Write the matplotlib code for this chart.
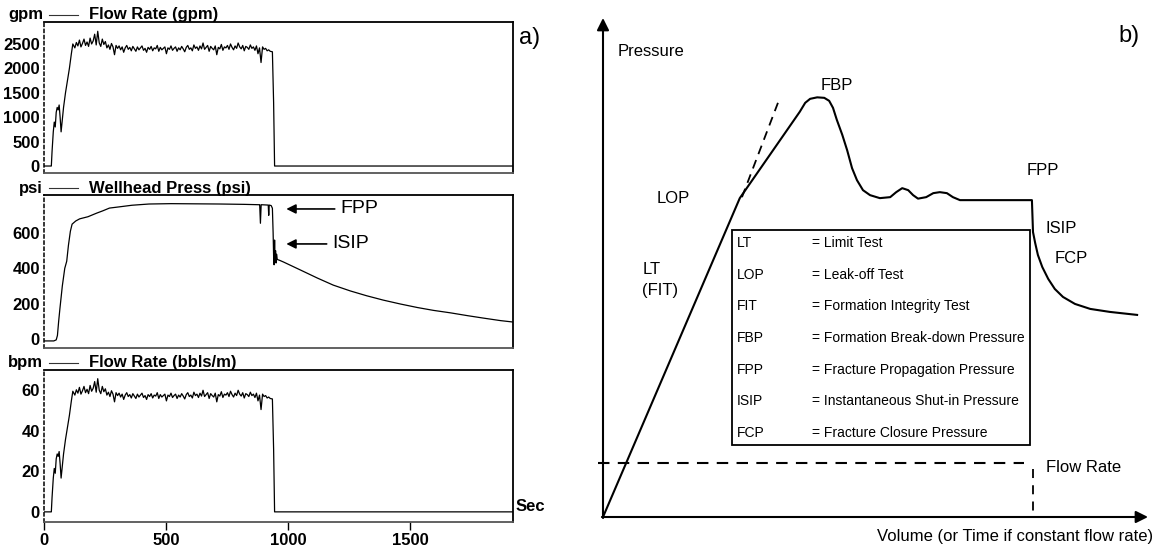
import numpy as np
import matplotlib
matplotlib.use("Agg")
import matplotlib.pyplot as plt
from matplotlib.lines import Line2D
from matplotlib.patches import Rectangle

W, H = 1156, 550
LEFT_FONT = ["Liberation Sans Narrow", "Liberation Sans"]
RIGHT_FONT = ["Liberation Sans", "DejaVu Sans"]

# ---------------- a) field injection record ----------------
# pump ramp-up (time in s, rate in gpm)
ramp_t = [0, 30, 33, 38, 42, 46, 50, 54, 58, 62, 66, 70, 74, 80, 88, 96, 104, 112, 118]
ramp_gpm = [0, 0, 300, 700, 900, 800, 1100, 1200, 1150, 1250, 1000, 700, 900, 1200,
            1500, 1750, 2000, 2300, 2500]

# steady pumping, sampled every ~6 s from 120 s to 926 s
steady_start, steady_end = 120, 926
steady_gpm = [
    2480, 2420, 2530, 2460, 2580, 2440, 2510, 2600, 2470, 2540,
    2450, 2620, 2500, 2560, 2700, 2480, 2760, 2520, 2450, 2600,
    2490, 2550, 2420, 2480, 2390, 2510, 2440, 2280, 2470, 2410,
    2460, 2380, 2440, 2330, 2420, 2470, 2390, 2430, 2360, 2450,
    2400, 2350, 2440, 2380, 2420, 2460, 2370, 2410, 2330, 2430,
    2390, 2450, 2360, 2420, 2400, 2470, 2350, 2430, 2380, 2410,
    2440, 2300, 2420, 2390, 2460, 2370, 2410, 2440, 2350, 2420,
    2380, 2450, 2400, 2340, 2430, 2470, 2390, 2420, 2360, 2480,
    2410, 2440, 2370, 2460, 2400, 2520, 2390, 2430, 2470, 2350,
    2450, 2410, 2380, 2460, 2280, 2430, 2400, 2490, 2370, 2440,
    2420, 2470, 2390, 2500, 2430, 2380, 2460, 2410, 2520, 2440,
    2400, 2470, 2360, 2450, 2430, 2390, 2480, 2410, 2440, 2370,
    2460, 2300, 2420, 2120, 2440, 2390, 2410, 2360, 2380, 2350,
]

# shut-in
shutin_t = [935, 940, 944, 1920]
shutin_gpm = [2340, 1300, 0, 0]

GAL_PER_BBL = 42.0

# wellhead pressure (time in s, psi)
press_t = [0, 40, 50, 55, 60, 65, 75, 85, 93, 100, 108, 115, 130, 146, 180, 215, 240,
           268, 309, 360, 430, 520, 620, 720, 820, 880, 883, 886, 889, 918, 920, 922,
           930, 935, 938, 940, 942, 944, 946, 948, 950, 952, 955, 965, 980, 1049, 1119,
           1184, 1254, 1320, 1389, 1459, 1529, 1594, 1664, 1734, 1800, 1869, 1920]
press_psi = [-11, -11, -5, 20, 100, 170, 300, 400, 440, 530, 610, 650, 668, 680, 692,
             712, 725, 741, 748, 757, 764, 766, 765, 764, 762, 760, 760, 655, 760, 758,
             700, 758, 755, 740, 600, 470, 420, 560, 440, 500, 430, 480, 450, 445, 436,
             391, 345, 305, 272, 245, 220, 198, 178, 162, 148, 132, 118, 104, 96]

fpp_psi, isip_psi = 736, 538

# ---------------- b) idealised leak-off test ----------------
curve_v = [0, 25.1, 36.1, 37.1, 38.0, 39.3, 40.6, 41.5, 42.2, 42.9, 43.9, 44.8, 45.7,
           46.6, 47.7, 49.0, 50.8, 52.7, 53.8, 54.9, 56.0, 56.9, 57.8, 59.3, 60.6, 61.8,
           63.1, 64.2, 65.5, 78.7, 78.9, 79.3, 79.8, 80.6, 81.7, 82.9, 84.4, 86.6, 89.4,
           93.0, 98.0]
curve_p = [0, 63.9, 81.2, 83.0, 83.8, 84.1, 84.0, 83.4, 82.0, 79.6, 76.6, 73.5, 69.9,
           67.5, 65.5, 64.5, 63.9, 64.1, 65.1, 65.9, 65.5, 64.5, 63.8, 64.1, 64.9, 65.1,
           64.9, 64.1, 63.5, 63.5, 57.1, 54.9, 52.5, 50.1, 47.7, 45.7, 44.1, 42.7, 41.7,
           41.1, 40.5]
lop_ext_v = [25.5, 32.1]
lop_ext_p = [64.1, 83.0]
flow_level = 10.8
flow_start, flow_stop = -0.9, 77.2
shutin_v = 78.9

abbrevs = ["LT", "LOP", "FIT", "FBP", "FPP", "ISIP", "FCP"]
meanings = ["= Limit Test", "= Leak-off Test", "= Formation Integrity Test",
            "= Formation Break-down Pressure", "= Fracture Propagation Pressure",
            "= Instantaneous Shut-in Pressure", "= Fracture Closure Pressure"]


def fx(x):
    return x / W


def fy(y):
    return 1 - y / H


fig = plt.figure(figsize=(W / 100, H / 100), dpi=100)
fig.patch.set_facecolor("white")

steady_t = np.linspace(steady_start, steady_end, len(steady_gpm))
rate_t = np.concatenate([ramp_t, steady_t, shutin_t])
rate_gpm = np.concatenate([ramp_gpm, steady_gpm, shutin_gpm])
rate_bpm = rate_gpm / GAL_PER_BBL

panels = [
    (22, 173, rate_t, rate_gpm, (-143, 2950), [0, 500, 1000, 1500, 2000, 2500],
     "gpm", "Flow Rate (gpm)"),
    (195, 348, press_t, press_psi, (-51, 815), [0, 200, 400, 600],
     "psi", "Wellhead Press (psi)"),
    (370, 522, rate_t, rate_bpm, (-5, 70), [0, 20, 40, 60],
     "bpm", "Flow Rate (bbls/m)"),
]

axes = []
for top, bot, tt, vals, ylim, yt, unit, title in panels:
    ax = fig.add_axes([fx(44), fy(bot), fx(513) - fx(44), (bot - top) / H])
    ax.plot(tt, vals, color="black", lw=0.9)
    ax.set_xlim(0, 1920)
    ax.set_ylim(*ylim)
    ax.set_yticks(yt)
    ax.set_yticklabels([str(v) for v in yt], family=LEFT_FONT, weight="bold",
                       fontsize=12)
    ax.tick_params(axis="y", length=0, pad=3)
    ax.tick_params(axis="x", length=0)
    ax.set_xticks([])
    for s in ["top", "right", "bottom"]:
        ax.spines[s].set_linewidth(1.3)
    ax.spines["bottom"].set_color("#555555")
    ax.spines["left"].set_linestyle((0, (2, 2)))
    ax.spines["left"].set_linewidth(1.1)
    yc = top - 7
    fig.text(fx(43), fy(yc), unit, ha="right", va="center", family=LEFT_FONT,
             weight="bold", fontsize=12)
    fig.add_artist(Line2D([fx(49), fx(78)], [fy(yc), fy(yc)], color="#333333",
                          lw=0.8, transform=fig.transFigure))
    fig.text(fx(89), fy(yc), title, ha="left", va="center", family=LEFT_FONT,
             weight="bold", fontsize=12)
    axes.append(ax)

ax3 = axes[2]
ax3.set_xticks([0, 500, 1000, 1500])
ax3.set_xticklabels(["0", "500", "1000", "1500"], family=LEFT_FONT, weight="bold",
                    fontsize=12)
ax3.tick_params(axis="x", direction="out", length=6, width=1, pad=2)
ax3.text(1.006, 0.1, "Sec", transform=ax3.transAxes, ha="left", va="center",
         family=LEFT_FONT, weight="bold", fontsize=12)

ax2 = axes[1]
for label, val, tx in [("FPP", fpp_psi, 1213), ("ISIP", isip_psi, 1180)]:
    ax2.annotate(label, xy=(992, val), xytext=(tx, val), ha="left", va="center",
                 family=RIGHT_FONT, fontsize=14,
                 arrowprops=dict(arrowstyle="-|>", color="black", lw=1.2,
                                 mutation_scale=14, shrinkA=2, shrinkB=0))

fig.text(fx(519), fy(38), "a)", ha="left", va="center", family=RIGHT_FONT,
         fontsize=17)

# ---------------- panel b ----------------
axb = fig.add_axes([fx(603), fy(517), fx(1148) - fx(603), (517 - 18) / H])
axb.set_xlim(0, 100)
axb.set_ylim(0, 100)
axb.axis("off")

axb.annotate("", xy=(100, 0), xytext=(-0.2, 0),
             arrowprops=dict(arrowstyle="-|>", color="black", lw=1.5,
                             mutation_scale=18, shrinkA=0, shrinkB=0))
axb.annotate("", xy=(0, 100), xytext=(0, -0.2),
             arrowprops=dict(arrowstyle="-|>", color="black", lw=1.5,
                             mutation_scale=18, shrinkA=0, shrinkB=0))

axb.plot(curve_v, curve_p, color="black", lw=1.5, clip_on=False,
         solid_joinstyle="round")
axb.plot(lop_ext_v, lop_ext_p, color="black", lw=1.3, dashes=(5, 3.5))
axb.plot([flow_start, flow_stop], [flow_level, flow_level], color="black", lw=1.5,
         dashes=(5.5, 4), clip_on=False)
axb.plot([shutin_v, shutin_v], [flow_level - 1.2, 0], color="black", lw=1.3,
         dashes=(5, 4))

box = Rectangle((23.7, 14.4), 54.6, 43.1, facecolor="white", edgecolor="black",
                lw=1.3, zorder=3)
axb.add_patch(box)
row_y = np.linspace(54.9, 16.8, len(abbrevs))
for yv, ab, mn in zip(row_y, abbrevs, meanings):
    axb.text(24.6, yv, ab, ha="left", va="center", family=RIGHT_FONT, fontsize=10,
             zorder=4)
    axb.text(38.3, yv, mn, ha="left", va="center", family=RIGHT_FONT, fontsize=10,
             zorder=4)

tkw = dict(family=RIGHT_FONT, fontsize=12, va="center")
axb.text(2.7, 93.2, "Pressure", ha="left", **tkw)
axb.text(42.9, 86.4, "FBP", ha="center", **tkw)
axb.text(12.8, 63.9, "LOP", ha="center", **tkw)
axb.text(9.0, 49.5, "LT", ha="center", **tkw)
axb.text(10.5, 45.4, "(FIT)", ha="center", **tkw)
axb.text(80.7, 69.5, "FPP", ha="center", **tkw)
axb.text(84.0, 57.9, "ISIP", ha="center", **tkw)
axb.text(85.9, 51.9, "FCP", ha="center", **tkw)
axb.text(81.3, 10.0, "Flow Rate", ha="left", **tkw)
axb.text(100.9, -4.0, "Volume (or Time if constant flow rate)", ha="right",
         clip_on=False, **tkw)

fig.text(fx(1118), fy(36), "b)", ha="left", va="center", family=RIGHT_FONT,
         fontsize=17)

fig.savefig("out.png", dpi=100, facecolor="white")
